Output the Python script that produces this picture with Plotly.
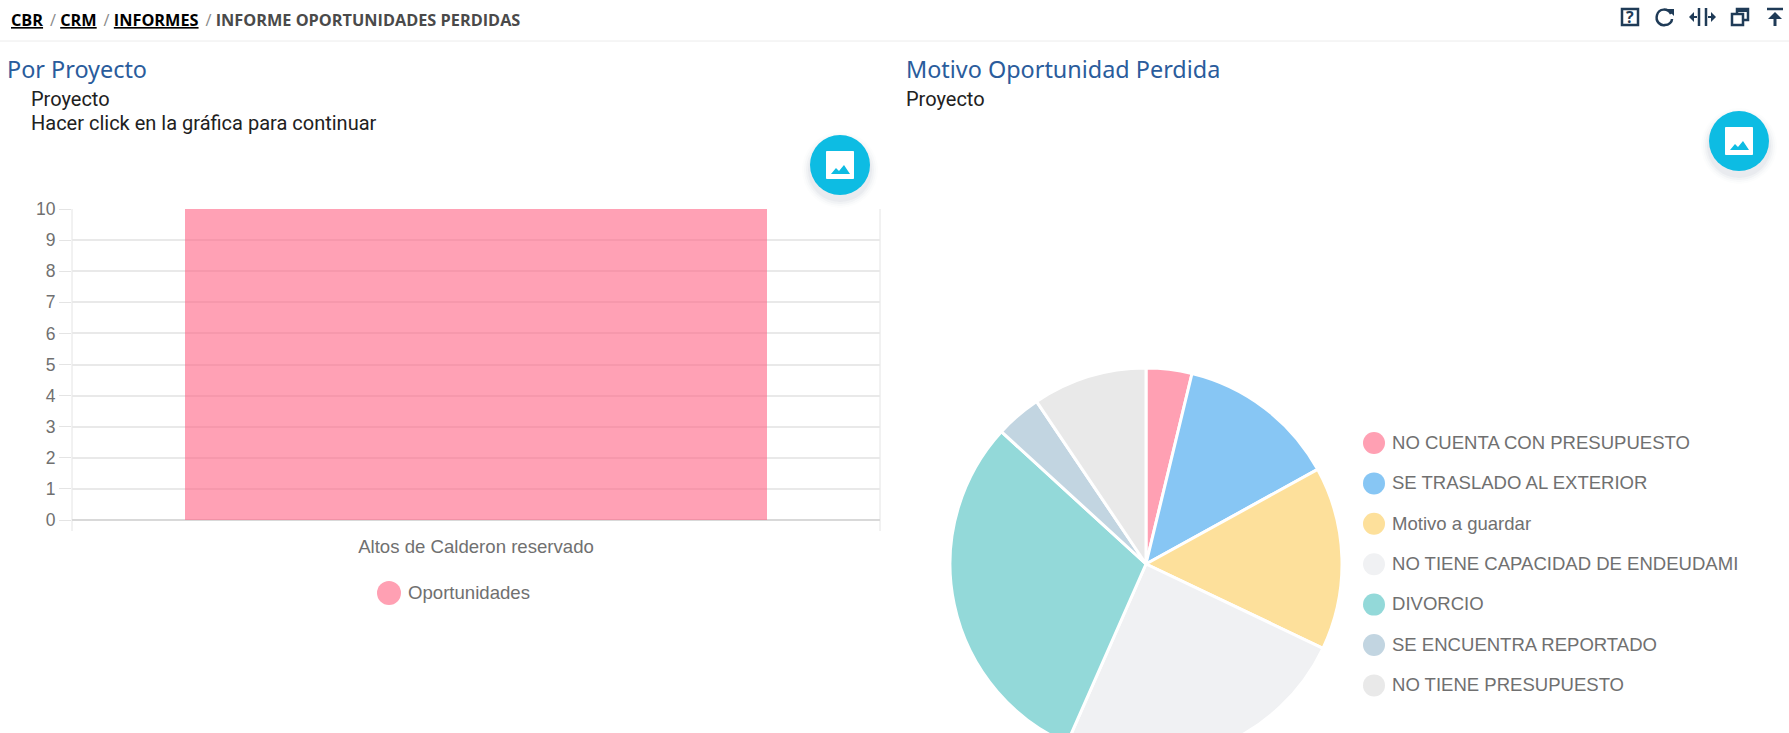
import plotly.graph_objects as go

W, H = 1789, 790

bar_categories = ["Altos de Calderon reservado"]
bar_series_name = "Oportunidades"
bar_values = [10]
y_ticks = [0, 1, 2, 3, 4, 5, 6, 7, 8, 9, 10]

pie_labels = ["NO CUENTA CON PRESUPUESTO", "SE TRASLADO AL EXTERIOR", "Motivo a guardar",
              "NO TIENE CAPACIDAD DE ENDEUDAMI", "DIVORCIO", "SE ENCUENTRA REPORTADO", "NO TIENE PRESUPUESTO"]
pie_values = [2, 7, 8, 13, 16, 2, 5]
pie_colors = ["#ffa0b3", "#87c6f4", "#fde09b", "#f0f1f3", "#93d9d9", "#c2d5e1", "#e9e9e9"]

PINK = "rgba(255,99,132,0.6)"
CYAN = "#0dbce3"
NAVY = "#1f3b57"
GREY = "#707070"


def X(v):
    return v / W


def Y(v):
    return 1 - v / H


def path(*cmds):
    out = []
    for c in cmds:
        if isinstance(c, str):
            out.append(c)
        else:
            out.append(f"{X(c[0]):.6f},{Y(c[1]):.6f}")
    return " ".join(out)


fig = go.Figure()
fig.add_trace(go.Bar(x=bar_categories, y=bar_values, name=bar_series_name, width=0.72,
                     marker=dict(color=PINK, line=dict(width=0)), xaxis="x", yaxis="y",
                     hoverinfo="x+y"))
fig.add_trace(go.Pie(labels=pie_labels, values=pie_values, sort=False, direction="clockwise", rotation=0,
                     marker=dict(colors=pie_colors, line=dict(color="#ffffff", width=3)),
                     textinfo="none", showlegend=False,
                     domain=dict(x=[X(950), X(1342)], y=[Y(760), Y(368)])))

shapes = []
annots = []


def text(x, y, s, size, color, family, anchor="left"):
    annots.append(dict(x=X(x), y=Y(y), xref="paper", yref="paper", text=s, showarrow=False,
                       xanchor=anchor, yanchor="middle", align="left", borderpad=0,
                       font=dict(size=size, color=color, family=family)))


def circle(cx, cy, r, color, layer="above"):
    shapes.append(dict(type="circle", xref="paper", yref="paper", x0=X(cx - r), x1=X(cx + r),
                       y0=Y(cy + r), y1=Y(cy - r), fillcolor=color, line=dict(width=0), layer=layer))


def line(x0, y0, x1, y1, color, width=1):
    shapes.append(dict(type="line", xref="paper", yref="paper", x0=X(x0), x1=X(x1), y0=Y(y0), y1=Y(y1),
                       line=dict(color=color, width=width), layer="below"))


def fill_path(d, color):
    shapes.append(dict(type="path", xref="paper", yref="paper", path=d, fillcolor=color,
                       line=dict(width=0), layer="above"))


def stroke_path(d, color, width=2.5):
    shapes.append(dict(type="path", xref="paper", yref="paper", path=d, line=dict(color=color, width=width),
                       layer="above"))


def rect(x0, y0, x1, y1, color, width=2.5, fill=None):
    shapes.append(dict(type="rect", xref="paper", yref="paper", x0=X(x0), x1=X(x1), y0=Y(y1), y1=Y(y0),
                       line=dict(color=color, width=width), fillcolor=fill, layer="above"))


def fab(cx, cy):
    for r, a in [(38, 0.012), (36, 0.02), (34, 0.03), (32, 0.04)]:
        circle(cx, cy + 5, r, f"rgba(40,50,90,{a})")
    circle(cx, cy, 30, CYAN)
    shapes.append(dict(type="rect", xref="paper", yref="paper", x0=X(cx - 13.5), x1=X(cx + 13.5),
                       y0=Y(cy + 13.5), y1=Y(cy - 13.5), fillcolor="#ffffff", line=dict(color="#ffffff", width=1),
                       layer="above"))
    fill_path(path("M", (cx - 9, cy + 9), "L", (cx - 4, cy + 3), "L", (cx - 1, cy + 6), "L", (cx + 4, cy),
                   "L", (cx + 10, cy + 9), "Z"), CYAN)


# header
line(0, 41, W, 41, "#ececec", 1)
sep = '<span style="color:#8a8a8a;font-weight:400">\u2009 / </span>'
crumb = (f'<b><u>CBR</u></b>{sep}<b><u>CRM</u></b>{sep}<b><u>INFORMES</u></b>{sep}'
         '<b><span style="color:#4a4a4a">INFORME OPORTUNIDADES PERDIDAS</span></b>')
text(10, 20, crumb, 16.3, "#000000", "Open Sans")

# toolbar icons
rect(1622, 9, 1638, 25, NAVY)
text(1630, 17, "<b>?</b>", 16, NAVY, "Open Sans", "center")
stroke_path(path("M", (1671, 14), "C", (1668, 8), (1659, 8), (1657, 15), "C", (1655, 22), (1661, 26), (1665, 25),
                 "C", (1669, 25), (1672, 22), (1672, 19)), NAVY)
fill_path(path("M", (1667, 9), "L", (1674, 9), "L", (1674, 16), "Z"), NAVY)
line(1699, 8, 1699, 26, NAVY, 2.5)
line(1706, 8, 1706, 26, NAVY, 2.5)
line(1691, 17, 1697, 17, NAVY, 2)
line(1708, 17, 1714, 17, NAVY, 2)
fill_path(path("M", (1689, 17), "L", (1694, 12), "L", (1694, 22), "Z"), NAVY)
fill_path(path("M", (1716, 17), "L", (1711, 12), "L", (1711, 22), "Z"), NAVY)
rect(1732, 14, 1743, 25, NAVY)
stroke_path(path("M", (1737, 14), "L", (1737, 9), "L", (1748, 9), "L", (1748, 20), "L", (1743, 20)), NAVY)
line(1737, 11, 1748, 11, NAVY, 2)
line(1767, 9, 1783, 9, NAVY, 2.5)
line(1775, 14, 1775, 26, NAVY, 3)
fill_path(path("M", (1775, 12), "L", (1768, 19), "L", (1782, 19), "Z"), NAVY)

# left panel
text(5.5, 69, "Por Proyecto", 23.4, "#2a5c9c", "Noto Sans")
text(29.5, 99, "Proyecto", 20, "#212121", "Roboto")
text(29.5, 123, "Hacer click en la gráfica para continuar", 20, "#212121", "Roboto")
fab(840, 165)

# vertical ends of the chart grid
line(72, 209, 72, 531, "#e4e4e4", 1)
line(880, 209, 880, 531, "#e4e4e4", 1)

# bar legend
circle(389, 593, 12, "#ffa0b3")
text(407, 592, bar_series_name, 18.6, GREY, "Liberation Sans")

# right panel
text(905, 69, "Motivo Oportunidad Perdida", 23.4, "#2a5c9c", "Noto Sans")
text(905, 99, "Proyecto", 20, "#212121", "Roboto")
fab(1739, 141)

# pie legend
for i, (lab, col) in enumerate(zip(pie_labels, pie_colors)):
    cy = 443 + i * 40.4
    circle(1374, cy, 11, col)
    text(1391, cy - 0.7, lab, 18.55, GREY, "Liberation Sans")

fig.update_layout(
    width=W, height=H, margin=dict(l=0, r=0, t=0, b=0), autosize=False,
    paper_bgcolor="#ffffff", plot_bgcolor="#ffffff", showlegend=False, bargap=0,
    shapes=shapes, annotations=annots,
    xaxis=dict(domain=[X(72), X(880)], type="category", range=[-0.5, 0.5], showgrid=False, zeroline=False,
               showline=False, ticks="", ticklabelstandoff=13, fixedrange=True, automargin=False,
               tickfont=dict(size=18.6, color=GREY, family="Liberation Sans")),
    yaxis=dict(domain=[Y(520), Y(209)], range=[0, 10], tickmode="array", tickvals=y_ticks,
               ticktext=[str(v) for v in y_ticks], showgrid=True, gridcolor="#e9e9e9", gridwidth=1.5,
               zeroline=True, zerolinecolor="#d9d9d9", zerolinewidth=2, showline=False, ticks="outside",
               ticklen=12, tickcolor="#e4e4e4", tickwidth=1, fixedrange=True, automargin=False,
               tickfont=dict(size=17.5, color=GREY, family="Liberation Sans")),
)

post = ("document.documentElement.style.overflow='hidden';document.body.style.overflow='hidden';"
        "document.body.style.margin='0';")
fig.write_html("out.html", post_script=post, config=dict(displayModeBar=False))
